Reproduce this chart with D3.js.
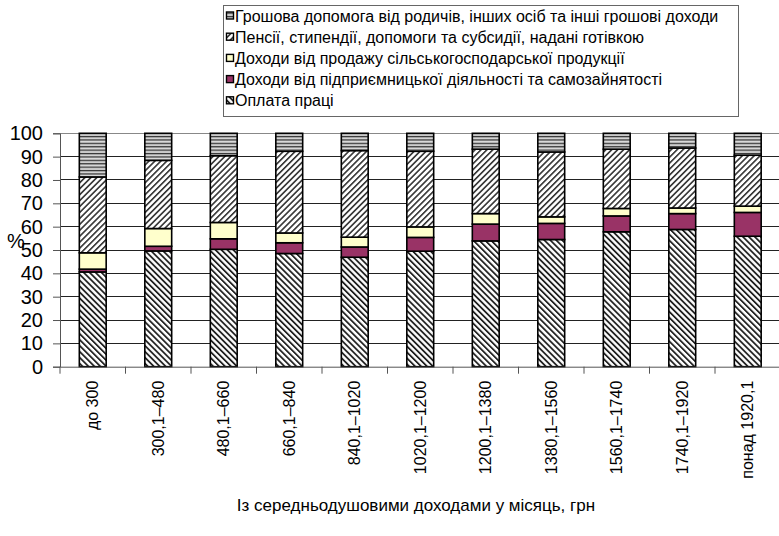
<!DOCTYPE html>
<html>
<head>
<meta charset="utf-8">
<script src="https://cdn.jsdelivr.net/npm/d3@7"></script>
<style>
  html, body { margin: 0; padding: 0; background: #fff; }
  svg { display: block; font-family: Arial, "Liberation Sans", sans-serif; }
</style>
</head>
<body>
<svg id="chart" width="779" height="536"></svg>
<script>
// Income groups (UAH per person per month)
const categories = ["до 300", "300,1–480", "480,1–660", "660,1–840", "840,1–1020",
  "1020,1–1200", "1200,1–1380", "1380,1–1560", "1560,1–1740", "1740,1–1920", "понад 1920,1"];

// Structure of cash income, %
const wages        = [40.6, 49.6, 50.3, 48.5, 46.9, 49.5, 53.9, 54.5, 57.8, 58.8, 55.9];
const business     = [1.2, 2.0, 4.5, 4.6, 4.4, 5.9, 7.2, 6.9, 6.8, 6.8, 10.2];
const agriSales    = [7.0, 7.6, 7.0, 4.2, 4.2, 4.5, 4.5, 2.8, 3.2, 2.4, 2.7];
const pensions     = [32.5, 29.2, 28.6, 35.0, 37.1, 32.4, 27.6, 27.8, 25.4, 25.7, 21.8];
const otherIncome  = [18.7, 11.6, 9.6, 7.7, 7.4, 7.7, 6.8, 8.0, 6.8, 6.3, 9.4];

const yTicks = [0, 10, 20, 30, 40, 50, 60, 70, 80, 90, 100];

const series = [
  { key: "wages",    name: "Оплата праці", values: wages, fill: "url(#pWages)" },
  { key: "business", name: "Доходи від підприємницької діяльності та самозайнятості", values: business, fill: "#993366" },
  { key: "agri",     name: "Доходи від продажу сільськогосподарської продукції", values: agriSales, fill: "#FFFFCC" },
  { key: "pensions", name: "Пенсії, стипендії, допомоги та субсидії, надані готівкою", values: pensions, fill: "url(#pPensions)" },
  { key: "other",    name: "Грошова допомога від родичів, інших осіб та інші грошові доходи", values: otherIncome, fill: "url(#pOther)" }
];

const FONT = "Arial, 'Liberation Sans', sans-serif";
const svg = d3.select("#chart");
const defs = svg.append("defs");

// diagonal hatch: "\" for wages
const pw = defs.append("pattern").attr("id", "pWages")
  .attr("patternUnits", "userSpaceOnUse").attr("width", 4.2).attr("height", 4.2)
  .attr("patternTransform", "rotate(-45)");
pw.append("rect").attr("width", 4.2).attr("height", 4.2).attr("fill", "#fff");
pw.append("rect").attr("width", 1.8).attr("height", 4.2).attr("fill", "#222");

// diagonal hatch: "/" for pensions
const pp = defs.append("pattern").attr("id", "pPensions")
  .attr("patternUnits", "userSpaceOnUse").attr("width", 4.2).attr("height", 4.2)
  .attr("patternTransform", "rotate(45)");
pp.append("rect").attr("width", 4.2).attr("height", 4.2).attr("fill", "#fff");
pp.append("rect").attr("width", 1.6).attr("height", 4.2).attr("fill", "#333");

// horizontal stripes for other income
const po = defs.append("pattern").attr("id", "pOther")
  .attr("patternUnits", "userSpaceOnUse").attr("width", 4).attr("height", 3.4);
po.append("rect").attr("width", 4).attr("height", 3.4).attr("fill", "#b8b8b8");
po.append("rect").attr("y", 0).attr("width", 4).attr("height", 1.1).attr("fill", "#333");
po.append("rect").attr("y", 2.0).attr("width", 4).attr("height", 0.8).attr("fill", "#eee");

const margin = { left: 60, right: 780.5, top: 133.3, bottom: 366.7 };

const x = d3.scaleBand().domain(categories).range([margin.left, margin.right]).padding(0);
const y = d3.scaleLinear().domain([0, 100]).range([margin.bottom, margin.top]);
const barW = x.bandwidth() * 0.41;

// gridlines
svg.append("g").selectAll("line").data(yTicks.filter(d => d > 0)).join("line")
  .attr("x1", margin.left).attr("x2", margin.right)
  .attr("y1", d => y(d)).attr("y2", d => y(d))
  .attr("stroke", d => d === 100 ? "#888" : "#222").attr("stroke-width", 1)
  .attr("shape-rendering", "crispEdges");

// stacked bars
const rows = categories.map((c, i) => {
  const r = { cat: c };
  series.forEach(s => r[s.key] = s.values[i]);
  return r;
});
const stack = d3.stack().keys(series.map(s => s.key))(rows);

const gBars = svg.append("g");
stack.forEach((layer, li) => {
  gBars.append("g").selectAll("rect").data(layer).join("rect")
    .attr("x", d => x(d.data.cat) + (x.bandwidth() - barW) / 2)
    .attr("width", barW)
    .attr("y", d => y(d[1]))
    .attr("height", d => y(d[0]) - y(d[1]))
    .attr("fill", series[li].fill)
    .attr("stroke", "#000").attr("stroke-width", 1.6);
});

// y axis
const yAxis = d3.axisLeft(y).tickValues(yTicks).tickSize(7).tickPadding(10).tickFormat(d3.format("d"));
const gy = svg.append("g").attr("transform", `translate(${margin.left},0)`).call(yAxis);
gy.select(".domain").attr("stroke", "#555");
gy.selectAll(".tick line").attr("stroke", "#555");
gy.selectAll(".tick text").attr("font-size", 20).attr("fill", "#000").attr("font-family", FONT);

svg.append("text").attr("x", 16).attr("y", 248).attr("font-size", 20)
  .attr("text-anchor", "middle").text("%");

// x axis
const xAxis = d3.axisBottom(x).tickSize(0).tickFormat(d => d);
const gx = svg.append("g").attr("transform", `translate(0,${margin.bottom})`).call(xAxis);
gx.select(".domain").attr("stroke", "#555");
gx.selectAll(".tick text")
  .attr("font-size", 16).attr("fill", "#000").attr("font-family", FONT)
  .attr("transform", "rotate(-90)")
  .attr("text-anchor", "end")
  .attr("x", -14).attr("y", 0).attr("dy", "0.35em");
// boundary ticks between groups
svg.append("g").selectAll("line").data(categories).join("line")
  .attr("x1", d => x(d)).attr("x2", d => x(d))
  .attr("y1", margin.bottom).attr("y2", margin.bottom + 7)
  .attr("stroke", "#555");

svg.append("text").attr("x", 416).attr("y", 511).attr("font-size", 17)
  .attr("text-anchor", "middle").text("Із середньодушовими доходами у місяць, грн");

// legend
const lg = svg.append("g");
lg.append("rect").attr("x", 223.5).attr("y", 5.5).attr("width", 515).attr("height", 111)
  .attr("fill", "#fff").attr("stroke", "#666").attr("stroke-width", 1);
const legendItems = series.slice().reverse();
const li = lg.selectAll("g.item").data(legendItems).join("g").attr("class", "item")
  .attr("transform", (d, i) => `translate(226,${16 + i * 21.2})`);
li.append("rect").attr("x", 0.5).attr("y", -4).attr("width", 7).attr("height", 7)
  .attr("fill", d => d.fill).attr("stroke", "#000").attr("stroke-width", 1.4);
li.append("text").attr("x", 9).attr("y", 5.5).attr("font-size", 16).text(d => d.name);
</script>
</body>
</html>
